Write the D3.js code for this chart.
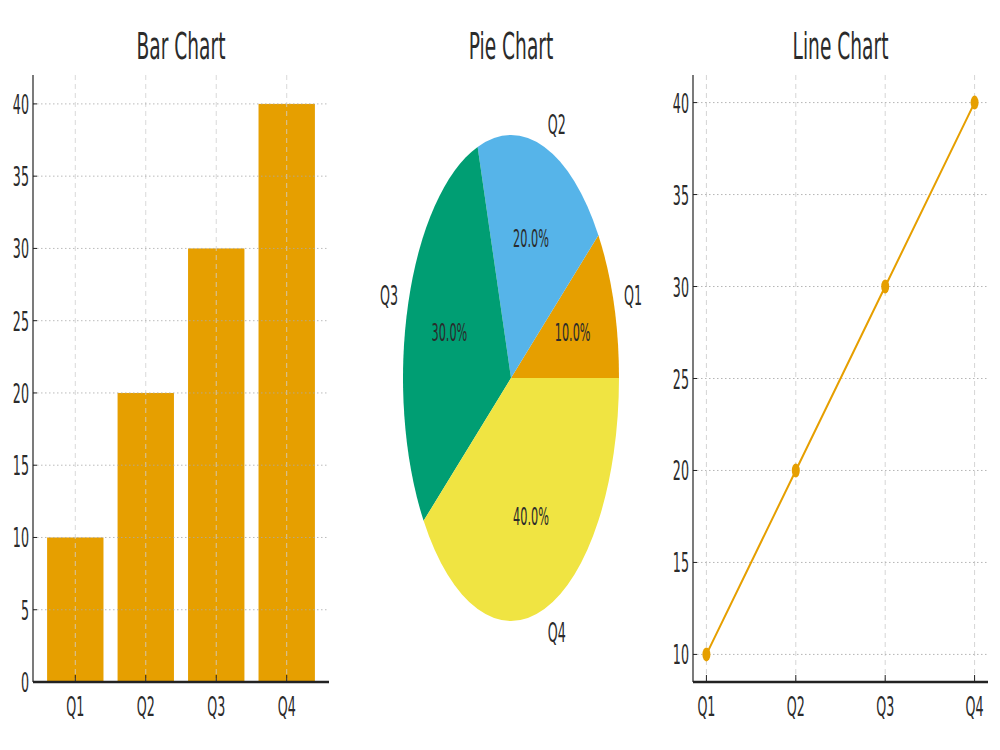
<!DOCTYPE html>
<html><head><meta charset="utf-8">
<script src="https://cdn.jsdelivr.net/npm/d3@7"></script>
<style>body{margin:0;background:#fff}svg{display:block}</style>
</head><body>
<svg id="c" width="1000" height="750"></svg>
<script>
const categories = ["Q1","Q2","Q3","Q4"];
const values = [10,20,30,40];
const barTicks = [0,5,10,15,20,25,30,35,40];
const lineTicks = [10,15,20,25,30,35,40];
const pieColors = ["#E69F00","#56B4E9","#009E73","#F0E442"];
const titles = ["Bar Chart","Pie Chart","Line Chart"];

const svg = d3.select("#c");
const TXT = "#2b2b2b";
function txt(g, x, y, s, size, anchor, sx){
  return g.append("text").attr("transform",`translate(${x},${y}) scale(${sx||0.47},1)`)
    .attr("text-anchor",anchor||"middle").attr("font-family","DejaVu Sans")
    .attr("font-size",size).attr("fill",TXT).text(s);
}
const TICK_FS = 27, TITLE_FS = 38;

// ---------- Bar chart ----------
{
  const g = svg.append("g");
  const x = d3.scaleLinear().domain([-0.6,3.6]).range([33,329]);
  const y = d3.scaleLinear().domain([0,42]).range([682,75]);
  g.selectAll("rect.bar").data(values).join("rect")
    .attr("x",(d,i)=>x(i-0.4)).attr("width",(d,i)=>x(i+0.4)-x(i-0.4))
    .attr("y",d=>y(d)).attr("height",d=>y(0)-y(d)).attr("fill","#E69F00");
  g.selectAll("line.vg").data(categories).join("line")
    .attr("x1",(d,i)=>x(i)).attr("x2",(d,i)=>x(i)).attr("y1",y(42)).attr("y2",y(0))
    .attr("stroke","#cfcfcf").attr("stroke-opacity",0.8).attr("stroke-dasharray","5,4");
  g.selectAll("line.hg").data(barTicks).join("line")
    .attr("x1",x(-0.6)).attr("x2",x(3.6)).attr("y1",d=>y(d)).attr("y2",d=>y(d))
    .attr("stroke","#aaa").attr("stroke-opacity",0.8).attr("stroke-dasharray","1.5,2.5");
  g.selectAll("line.yt").data(barTicks).join("line")
    .attr("x1",x(-0.6)).attr("x2",x(-0.6)+4).attr("y1",d=>y(d)).attr("y2",d=>y(d)).attr("stroke","#222");
  g.selectAll("line.xt").data(categories).join("line")
    .attr("x1",(d,i)=>x(i)).attr("x2",(d,i)=>x(i)).attr("y1",y(0)).attr("y2",y(0)-7).attr("stroke","#222");
  g.append("line").attr("x1",x(-0.6)).attr("x2",x(-0.6)).attr("y1",y(42)).attr("y2",y(0)).attr("stroke","#222").attr("stroke-width",1.2);
  g.append("line").attr("x1",x(-0.6)).attr("x2",x(3.6)).attr("y1",y(0)).attr("y2",y(0)).attr("stroke","#222").attr("stroke-width",2.5);
  barTicks.forEach(t=>txt(g, x(-0.6)-4, y(t)+10, String(t), TICK_FS, "end"));
  categories.forEach((c,i)=>txt(g, x(i), 716, c, TICK_FS));
  txt(g, (x(-0.6)+x(3.6))/2, 59, titles[0], TITLE_FS, null, 0.49);
}

// ---------- Pie chart ----------
{
  const g = svg.append("g");
  const cx = 511, cy = 378, rx = 108, ry = 243;
  const pie = d3.pie().sort(null).startAngle(Math.PI/2).endAngle(Math.PI/2 - 2*Math.PI);
  const arcs = pie(values);
  const arc = d3.arc().innerRadius(0).outerRadius(ry);
  const pg = g.append("g").attr("transform",`translate(${cx},${cy}) scale(${rx/ry},1)`);
  pg.selectAll("path").data(arcs).join("path").attr("d",arc).attr("fill",(d,i)=>pieColors[i]);
  const total = d3.sum(values);
  arcs.forEach((a,i)=>{
    const m = (a.startAngle + a.endAngle)/2;
    const sx = Math.sin(m), sy = -Math.cos(m);
    txt(g, cx + 0.6*rx*sx, cy + 0.6*ry*sy + 8, (values[i]/total*100).toFixed(1)+"%", 24, "middle");
    txt(g, cx + 1.1*rx*sx, cy + 1.1*ry*sy + 10, categories[i], TICK_FS, sx>0?"start":"end");
  });
  txt(g, cx, 59, titles[1], TITLE_FS, null, 0.49);
}

// ---------- Line chart ----------
{
  const g = svg.append("g");
  const x = d3.scaleLinear().domain([-0.15,3.15]).range([693,988]);
  const y = d3.scaleLinear().domain([8.5,41.5]).range([682,75]);
  g.selectAll("line.vg").data(categories).join("line")
    .attr("x1",(d,i)=>x(i)).attr("x2",(d,i)=>x(i)).attr("y1",y(41.5)).attr("y2",y(8.5))
    .attr("stroke","#d5d5d5").attr("stroke-dasharray","5,4");
  g.selectAll("line.hg").data(lineTicks).join("line")
    .attr("x1",x(-0.15)).attr("x2",x(3.15)).attr("y1",d=>y(d)).attr("y2",d=>y(d))
    .attr("stroke","#b5b5b5").attr("stroke-dasharray","1.5,2.5");
  g.selectAll("line.yt").data(lineTicks).join("line")
    .attr("x1",x(-0.15)).attr("x2",x(-0.15)+4).attr("y1",d=>y(d)).attr("y2",d=>y(d)).attr("stroke","#222");
  g.selectAll("line.xt").data(categories).join("line")
    .attr("x1",(d,i)=>x(i)).attr("x2",(d,i)=>x(i)).attr("y1",y(8.5)).attr("y2",y(8.5)-7).attr("stroke","#222");
  g.append("line").attr("x1",x(-0.15)).attr("x2",x(-0.15)).attr("y1",y(41.5)).attr("y2",y(8.5)).attr("stroke","#222").attr("stroke-width",1.2);
  g.append("line").attr("x1",x(-0.15)).attr("x2",x(3.15)).attr("y1",y(8.5)).attr("y2",y(8.5)).attr("stroke","#222").attr("stroke-width",2.5);
  const line = d3.line().x((d,i)=>x(i)).y(d=>y(d));
  g.append("path").datum(values).attr("d",line).attr("fill","none").attr("stroke","#E69F00").attr("stroke-width",2);
  g.selectAll("ellipse").data(values).join("ellipse")
    .attr("cx",(d,i)=>x(i)).attr("cy",d=>y(d)).attr("rx",4).attr("ry",7).attr("fill","#E69F00");
  lineTicks.forEach(t=>txt(g, x(-0.15)-4, y(t)+10, String(t), TICK_FS, "end"));
  categories.forEach((c,i)=>txt(g, x(i), 716, c, TICK_FS));
  txt(g, (x(-0.15)+x(3.15))/2, 59, titles[2], TITLE_FS, null, 0.49);
}
</script>
</body></html>
